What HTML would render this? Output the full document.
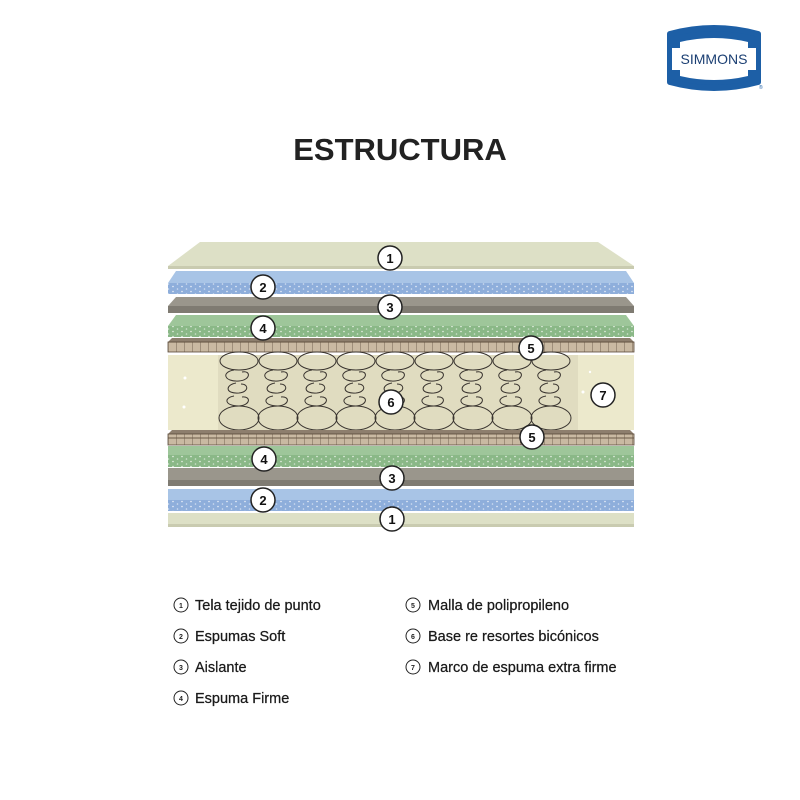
<!DOCTYPE html>
<html><head><meta charset="utf-8"><style>
body{margin:0;background:#fff;}
svg{display:block}
text{font-family:"Liberation Sans",sans-serif}
.sp{fill:none;stroke:#3a3530;stroke-width:1}
</style></head><body>
<svg width="800" height="800" viewBox="0 0 800 800" xmlns="http://www.w3.org/2000/svg">
<defs>
<pattern id="dots" width="9" height="5" patternUnits="userSpaceOnUse">
<circle cx="2" cy="1.5" r="0.8" fill="#fff" opacity="0.8"/><circle cx="6.5" cy="4" r="0.8" fill="#fff" opacity="0.6"/>
</pattern>
<pattern id="mesh" width="8" height="12" patternUnits="userSpaceOnUse">
<rect width="8" height="12" fill="#c9b9a2"/><path d="M0 0V12M0 6H8" stroke="#6b5a48" stroke-width="0.9"/>
</pattern>
</defs>

<!-- logo -->
<path d="M670 34 Q714 22 758 34 L758 82 Q714 94 670 82 Z" fill="#1d5fa6" stroke="#1d5fa6" stroke-width="6" stroke-linejoin="round"/>
<path d="M680 42 Q714 34 748 42 L748 48 L680 48 Z" fill="#fff"/>
<path d="M680 70 L748 70 L748 76 Q714 84 680 76 Z" fill="#fff"/>
<rect x="672" y="48" width="84" height="22" fill="#fff"/>
<text x="714" y="64" font-size="14" text-anchor="middle" fill="#1b3f73" font-family="Liberation Serif,serif">SIMMONS</text>
<text x="759" y="89" font-size="5" fill="#1d5fa6">®</text>

<text x="400" y="160" font-size="31" font-weight="bold" text-anchor="middle" fill="#222">ESTRUCTURA</text>

<!-- top layers -->
<path d="M200 242 L598 242 L634 266 L634 269 L168 269 L168 266 Z" fill="#dde0c6"/>
<rect x="168" y="266" width="466" height="3" fill="#c9cbb0"/>
<path d="M176 271 L626 271 L634 283 L634 294 L168 294 L168 283 Z" fill="#a8c4e6"/>
<rect x="168" y="283" width="466" height="11" fill="#8eaedb"/><rect x="168" y="283" width="466" height="11" fill="url(#dots)"/>
<path d="M176 297 L626 297 L634 306 L634 313 L168 313 L168 306 Z" fill="#9a968c"/>
<rect x="168" y="306" width="466" height="7" fill="#7f7b72"/>
<path d="M176 315 L626 315 L634 326 L634 337 L168 337 L168 326 Z" fill="#9ec69a"/>
<rect x="168" y="326" width="466" height="11" fill="#8ab887"/><rect x="168" y="326" width="466" height="11" fill="url(#dots)"/>
<path d="M172 338 L630 338 L634 342 L168 342 Z" fill="#8d7e6d"/>
<rect x="168" y="342" width="466" height="10" fill="url(#mesh)" stroke="#5a4a3a" stroke-width="0.8"/>

<!-- core -->
<rect x="168" y="355" width="466" height="75" fill="#ece9cc"/>
<rect x="218" y="355" width="360" height="75" fill="#e0dcc0"/>
<g transform="translate(239,0)"><ellipse class="sp" cx="0" cy="361" rx="19" ry="9"/><path class="sp" d="M-5 370 C-18 372,-15 382,0 381 C12 380,12 370,3 372 M-3 383 C-14 385,-14 394,0 393 C10 392,10 384,2 384 M-5 396 C-16 398,-14 406,0 406 C12 405,12 396,3 397"/><ellipse class="sp" cx="0" cy="418" rx="20" ry="12"/></g>
<g transform="translate(278,0)"><ellipse class="sp" cx="0" cy="361" rx="19" ry="9"/><path class="sp" d="M-5 370 C-18 372,-15 382,0 381 C12 380,12 370,3 372 M-3 383 C-14 385,-14 394,0 393 C10 392,10 384,2 384 M-5 396 C-16 398,-14 406,0 406 C12 405,12 396,3 397"/><ellipse class="sp" cx="0" cy="418" rx="20" ry="12"/></g>
<g transform="translate(317,0)"><ellipse class="sp" cx="0" cy="361" rx="19" ry="9"/><path class="sp" d="M-5 370 C-18 372,-15 382,0 381 C12 380,12 370,3 372 M-3 383 C-14 385,-14 394,0 393 C10 392,10 384,2 384 M-5 396 C-16 398,-14 406,0 406 C12 405,12 396,3 397"/><ellipse class="sp" cx="0" cy="418" rx="20" ry="12"/></g>
<g transform="translate(356,0)"><ellipse class="sp" cx="0" cy="361" rx="19" ry="9"/><path class="sp" d="M-5 370 C-18 372,-15 382,0 381 C12 380,12 370,3 372 M-3 383 C-14 385,-14 394,0 393 C10 392,10 384,2 384 M-5 396 C-16 398,-14 406,0 406 C12 405,12 396,3 397"/><ellipse class="sp" cx="0" cy="418" rx="20" ry="12"/></g>
<g transform="translate(395,0)"><ellipse class="sp" cx="0" cy="361" rx="19" ry="9"/><path class="sp" d="M-5 370 C-18 372,-15 382,0 381 C12 380,12 370,3 372 M-3 383 C-14 385,-14 394,0 393 C10 392,10 384,2 384 M-5 396 C-16 398,-14 406,0 406 C12 405,12 396,3 397"/><ellipse class="sp" cx="0" cy="418" rx="20" ry="12"/></g>
<g transform="translate(434,0)"><ellipse class="sp" cx="0" cy="361" rx="19" ry="9"/><path class="sp" d="M-5 370 C-18 372,-15 382,0 381 C12 380,12 370,3 372 M-3 383 C-14 385,-14 394,0 393 C10 392,10 384,2 384 M-5 396 C-16 398,-14 406,0 406 C12 405,12 396,3 397"/><ellipse class="sp" cx="0" cy="418" rx="20" ry="12"/></g>
<g transform="translate(473,0)"><ellipse class="sp" cx="0" cy="361" rx="19" ry="9"/><path class="sp" d="M-5 370 C-18 372,-15 382,0 381 C12 380,12 370,3 372 M-3 383 C-14 385,-14 394,0 393 C10 392,10 384,2 384 M-5 396 C-16 398,-14 406,0 406 C12 405,12 396,3 397"/><ellipse class="sp" cx="0" cy="418" rx="20" ry="12"/></g>
<g transform="translate(512,0)"><ellipse class="sp" cx="0" cy="361" rx="19" ry="9"/><path class="sp" d="M-5 370 C-18 372,-15 382,0 381 C12 380,12 370,3 372 M-3 383 C-14 385,-14 394,0 393 C10 392,10 384,2 384 M-5 396 C-16 398,-14 406,0 406 C12 405,12 396,3 397"/><ellipse class="sp" cx="0" cy="418" rx="20" ry="12"/></g>
<g transform="translate(551,0)"><ellipse class="sp" cx="0" cy="361" rx="19" ry="9"/><path class="sp" d="M-5 370 C-18 372,-15 382,0 381 C12 380,12 370,3 372 M-3 383 C-14 385,-14 394,0 393 C10 392,10 384,2 384 M-5 396 C-16 398,-14 406,0 406 C12 405,12 396,3 397"/><ellipse class="sp" cx="0" cy="418" rx="20" ry="12"/></g>
<circle cx="185" cy="378" r="1.5" fill="#fff"/><circle cx="184" cy="407" r="1.5" fill="#fff"/><circle cx="583" cy="392" r="1.5" fill="#fff"/><circle cx="590" cy="372" r="1.2" fill="#fff"/>

<path d="M172 430 L630 430 L634 434 L168 434 Z" fill="#8d7e6d"/>
<rect x="168" y="434" width="466" height="11" fill="url(#mesh)" stroke="#5a4a3a" stroke-width="0.8"/>
<path d="M168 446 L634 446 L634 467 L168 467 Z" fill="#9ec69a"/>
<rect x="168" y="455" width="466" height="12" fill="#8ab887"/><rect x="168" y="455" width="466" height="12" fill="url(#dots)"/>
<path d="M168 468 L634 468 L634 486 L168 486 Z" fill="#9a968c"/>
<rect x="168" y="480" width="466" height="6" fill="#7f7b72"/>
<path d="M168 489 L634 489 L634 511 L168 511 Z" fill="#a8c4e6"/>
<rect x="168" y="500" width="466" height="11" fill="#8eaedb"/><rect x="168" y="500" width="466" height="11" fill="url(#dots)"/>
<path d="M168 513 L634 513 L634 527 L168 527 Z" fill="#dde0c6"/>
<rect x="168" y="524" width="466" height="3" fill="#c9cbb0"/>

<!-- badges -->
<g fill="#fff" stroke="#222" stroke-width="1.5">
<circle cx="390" cy="258" r="12"/><circle cx="263" cy="287" r="12"/><circle cx="390" cy="307" r="12"/><circle cx="263" cy="328" r="12"/>
<circle cx="531" cy="348" r="12"/><circle cx="391" cy="402" r="12"/><circle cx="603" cy="395" r="12"/><circle cx="532" cy="437" r="12"/>
<circle cx="264" cy="459" r="12"/><circle cx="392" cy="478" r="12"/><circle cx="263" cy="500" r="12"/><circle cx="392" cy="519" r="12"/>
</g>
<g font-size="13" font-weight="bold" text-anchor="middle" fill="#111">
<text x="390" y="263">1</text><text x="263" y="292">2</text><text x="390" y="312">3</text><text x="263" y="333">4</text>
<text x="531" y="353">5</text><text x="391" y="407">6</text><text x="603" y="400">7</text><text x="532" y="442">5</text>
<text x="264" y="464">4</text><text x="392" y="483">3</text><text x="263" y="505">2</text><text x="392" y="524">1</text>
</g>

<!-- legend -->
<g fill="none" stroke="#222" stroke-width="1">
<circle cx="181" cy="605" r="7"/><circle cx="181" cy="636" r="7"/><circle cx="181" cy="667" r="7"/><circle cx="181" cy="698" r="7"/>
<circle cx="413" cy="605" r="7"/><circle cx="413" cy="636" r="7"/><circle cx="413" cy="667" r="7"/>
</g>
<g font-size="7" text-anchor="middle" fill="#222" font-weight="bold">
<text x="181" y="608">1</text><text x="181" y="639">2</text><text x="181" y="670">3</text><text x="181" y="701">4</text>
<text x="413" y="608">5</text><text x="413" y="639">6</text><text x="413" y="670">7</text>
</g>
<g font-size="14.5" fill="#1a1a1a" stroke="#1a1a1a" stroke-width="0.25">
<text x="195" y="610">Tela tejido de punto</text>
<text x="195" y="641">Espumas Soft</text>
<text x="195" y="672">Aislante</text>
<text x="195" y="703">Espuma Firme</text>
<text x="428" y="610">Malla de polipropileno</text>
<text x="428" y="641">Base re resortes bicónicos</text>
<text x="428" y="672">Marco de espuma extra firme</text>
</g>
</svg>
</body></html>
